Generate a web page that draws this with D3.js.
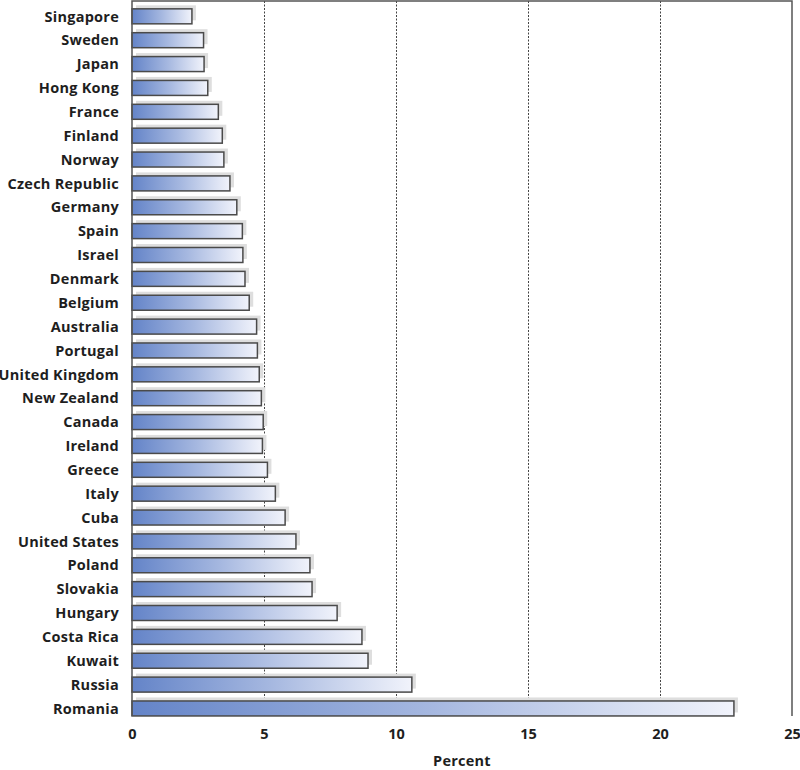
<!DOCTYPE html>
<html>
<head>
<meta charset="utf-8">
<script src="https://cdn.jsdelivr.net/npm/d3@7"></script>
<style>
  html, body { margin: 0; padding: 0; background: #fff; }
  svg { display: block; }
  text { font-family: "Open Sans", "DejaVu Sans", sans-serif; font-weight: bold; fill: #1e1e1e; }
</style>
</head>
<body>
<svg id="chart" width="800" height="770"></svg>
<script>
const categories = ["Singapore","Sweden","Japan","Hong Kong","France","Finland","Norway","Czech Republic","Germany","Spain","Israel","Denmark","Belgium","Australia","Portugal","United Kingdom","New Zealand","Canada","Ireland","Greece","Italy","Cuba","United States","Poland","Slovakia","Hungary","Costa Rica","Kuwait","Russia","Romania"];
const values = [2.27,2.71,2.73,2.87,3.27,3.42,3.48,3.71,3.97,4.18,4.2,4.28,4.44,4.72,4.75,4.82,4.9,4.97,4.94,5.13,5.43,5.8,6.21,6.74,6.82,7.77,8.71,8.94,10.6,22.8];
const xTicks = [0,5,10,15,20,25];
const gridTicks = [5,10,15,20];
const axisTitle = "Percent";

const data = categories.map((c, i) => ({ name: c, value: values[i] }));

const svg = d3.select("#chart");
const pLeft = 132, pRight = 792, pTop = 1, pBottom = 716;

const x = d3.scaleLinear().domain([0, 25]).range([pLeft, pRight]);
const y = d3.scaleBand().domain(categories).range([4.4, 720.4]).paddingInner(0.372).paddingOuter(0.186);

const defs = svg.append("defs");
const grad = defs.append("linearGradient").attr("id", "barGrad")
  .attr("x1", "0%").attr("x2", "100%").attr("y1", "0%").attr("y2", "0%");
grad.append("stop").attr("offset", "0%").attr("stop-color", "#6484c8");
grad.append("stop").attr("offset", "50%").attr("stop-color", "#a6b8e0");
grad.append("stop").attr("offset", "100%").attr("stop-color", "#f1f3fb");

// gridlines
svg.append("g").selectAll("line").data(gridTicks).join("line")
  .attr("x1", d => Math.round(x(d)) + 0.5).attr("x2", d => Math.round(x(d)) + 0.5)
  .attr("y1", pTop).attr("y2", pBottom)
  .attr("stroke", "#444").attr("stroke-width", 1).attr("stroke-dasharray", "2,1.5");

// shadows
svg.append("g").selectAll("rect").data(data).join("rect")
  .attr("x", x(0) + 4)
  .attr("y", d => y(d.name) - 3.5)
  .attr("width", d => x(d.value) - x(0))
  .attr("height", y.bandwidth())
  .attr("fill", "#dedede");

// bars
svg.append("g").selectAll("rect").data(data).join("rect")
  .attr("x", x(0))
  .attr("y", d => y(d.name))
  .attr("width", d => x(d.value) - x(0))
  .attr("height", y.bandwidth())
  .attr("fill", "url(#barGrad)")
  .attr("stroke", "#4a4a4a").attr("stroke-width", 1.5);

// frame
svg.append("path")
  .attr("d", `M${pLeft},${pBottom}V${pTop}H${pRight}V${pBottom}`)
  .attr("fill", "none").attr("stroke", "#555").attr("stroke-width", 1.5);

// y labels
svg.append("g").selectAll("text").data(data).join("text")
  .attr("x", 119)
  .attr("y", d => y(d.name) + y.bandwidth() / 2)
  .attr("dy", "0.36em")
  .attr("text-anchor", "end")
  .attr("font-size", 14.5)
  .attr("letter-spacing", 0.25)
  .text(d => d.name);

// x axis labels
const xAxis = d3.axisBottom(x).tickValues(xTicks).tickSize(0).tickPadding(0).tickFormat(d3.format("d"));
const gx = svg.append("g").attr("transform", `translate(0,${pBottom + 10})`).call(xAxis);
gx.select(".domain").remove();
gx.selectAll("text").attr("font-size", 14.5).attr("dy", "0.9em").attr("font-family", null).attr("fill", null);

svg.append("text")
  .attr("x", (pLeft + pRight) / 2).attr("y", 766)
  .attr("text-anchor", "middle").attr("font-size", 14.5)
  .attr("letter-spacing", 0.25)
  .text(axisTitle);
</script>
</body>
</html>
